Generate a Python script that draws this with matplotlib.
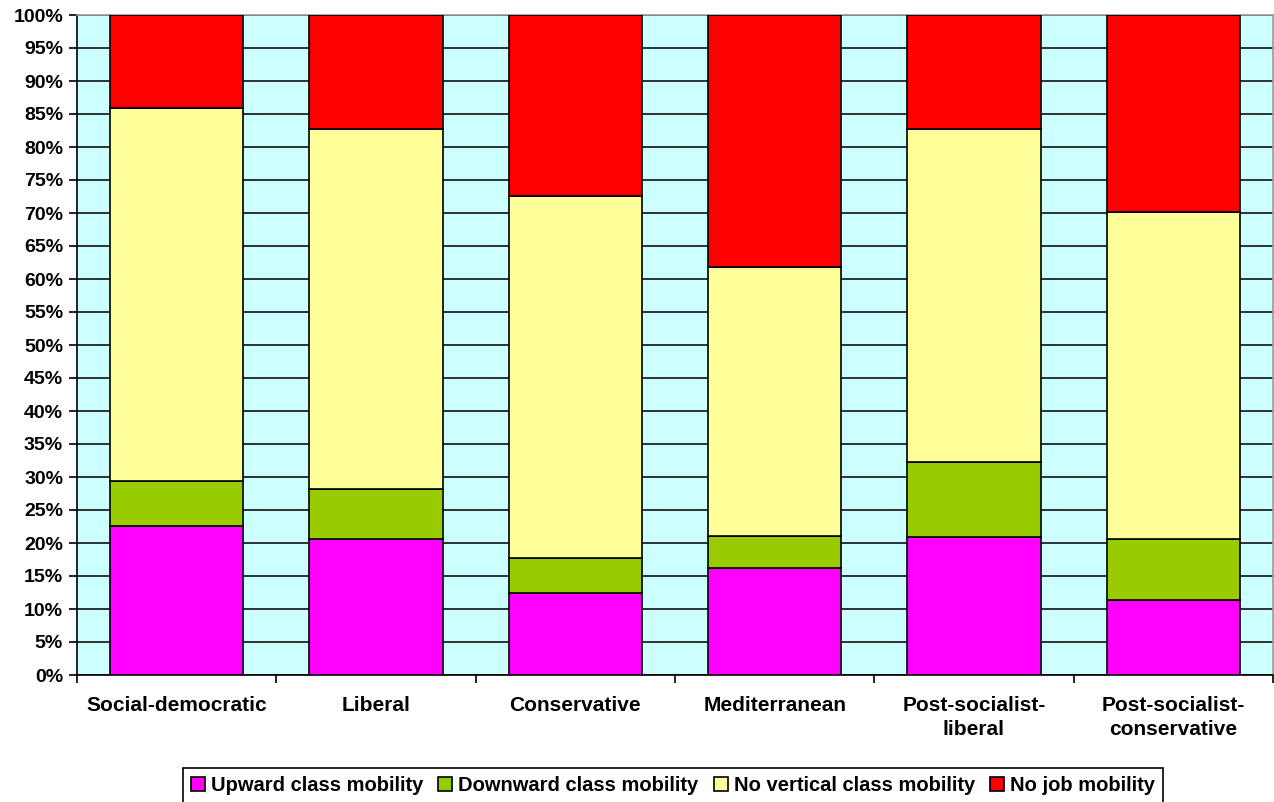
import matplotlib
matplotlib.use("Agg")
import matplotlib.pyplot as plt
import numpy as np

plt.rcParams['font.family'] = ['Liberation Sans', 'DejaVu Sans']
plt.rcParams['font.weight'] = 'bold'

categories = ["Social-democratic", "Liberal", "Conservative", "Mediterranean",
              "Post-socialist-\nliberal", "Post-socialist-\nconservative"]
series_names = ["Upward class mobility", "Downward class mobility",
                "No vertical class mobility", "No job mobility"]
upward = [22.6, 20.6, 12.4, 16.2, 20.9, 11.4]
downward = [6.8, 7.6, 5.3, 4.9, 11.4, 9.2]
no_vertical = [56.5, 54.5, 54.9, 40.7, 50.4, 49.6]
no_job = [14.1, 17.3, 27.4, 38.2, 17.3, 29.8]
colors = ["#FF00FF", "#99CC00", "#FFFF99", "#FF0000"]
ytick_labels = [f"{v}%" for v in range(0, 101, 5)]

fig = plt.figure(figsize=(12.74, 8.02), dpi=100)
ax = fig.add_axes([77 / 1274, 1 - 675 / 802, (1273 - 77) / 1274, 660 / 802])
ax.set_facecolor("#CCFFFF")

x = np.arange(len(categories))
bottom = np.zeros(len(categories))
handles = []
for vals, col, name in zip([upward, downward, no_vertical, no_job], colors, series_names):
    b = ax.bar(x, vals, width=0.67, bottom=bottom, color=col, edgecolor="black",
               linewidth=1.2, label=name, zorder=3)
    handles.append(b)
    bottom += np.array(vals)

ax.set_xlim(-0.5, len(categories) - 0.5)
ax.set_ylim(0, 100)
ax.set_yticks(range(0, 101, 5))
ax.set_yticklabels(ytick_labels, fontsize=14, fontweight="bold")
ax.yaxis.grid(True, color="#222222", linewidth=1.3, zorder=1)
ax.set_axisbelow(True)
ax.tick_params(axis="y", length=6, width=1.2, color="black", pad=4)

ax.set_xticks(x)
ax.set_xticklabels(categories, fontsize=15, fontweight="bold", linespacing=1.35)
ax.tick_params(axis="x", length=0, pad=15)
ax.set_xticks(np.arange(-0.5, len(categories)), minor=True)
ax.tick_params(axis="x", which="minor", length=6, width=1.2, color="black")

for side in ["top", "right"]:
    ax.spines[side].set_color("#999999")
    ax.spines[side].set_linewidth(1.2)
for side in ["left", "bottom"]:
    ax.spines[side].set_color("black")
    ax.spines[side].set_linewidth(1.2)

leg = fig.legend(handles=handles, labels=series_names, loc="upper center",
                 bbox_to_anchor=(673 / 1274, 1 - 768 / 802), ncol=4, fontsize=14.5,
                 frameon=True, fancybox=False, edgecolor="black", framealpha=1,
                 handlelength=0.7, handleheight=0.7, handletextpad=0.3,
                 columnspacing=0.75, borderpad=0.4, borderaxespad=0)
leg.get_frame().set_linewidth(1.2)
for t in leg.get_texts():
    t.set_fontweight("bold")

fig.savefig("out.png", dpi=100)
